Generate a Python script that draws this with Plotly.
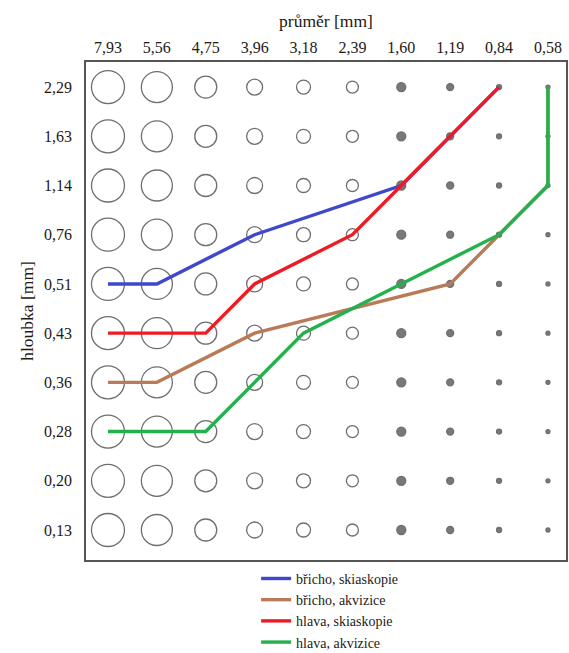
import plotly.graph_objects as go

# --- data ---
diameters = ["7,93", "5,56", "4,75", "3,96", "3,18", "2,39", "1,60", "1,19", "0,84", "0,58"]
depths = ["0,13", "0,20", "0,28", "0,36", "0,43", "0,51", "0,76", "1,14", "1,63", "2,29"]

bricho_skiaskopie_x = ["7,93", "5,56", "3,96", "1,60", "0,84"]
bricho_skiaskopie_y = ["0,51", "0,51", "0,76", "1,14", "2,29"]

bricho_akvizice_x = ["7,93", "5,56", "3,96", "1,19", "0,84", "0,58", "0,58"]
bricho_akvizice_y = ["0,36", "0,36", "0,43", "0,51", "0,76", "1,14", "2,29"]

hlava_skiaskopie_x = ["7,93", "4,75", "3,96", "2,39", "1,60", "0,84"]
hlava_skiaskopie_y = ["0,43", "0,43", "0,51", "0,76", "1,14", "2,29"]

hlava_akvizice_x = ["7,93", "4,75", "3,96", "3,18", "1,60", "0,84", "0,58", "0,58"]
hlava_akvizice_y = ["0,28", "0,28", "0,36", "0,43", "0,51", "0,76", "1,14", "2,29"]

# --- style ---
marker_px = [33, 31, 22, 16, 14, 12, 9, 7, 5, 4]
filled = [False, False, False, False, False, False, True, True, True, True]
FONT = "Liberation Serif"
TXT = "#1e1a16"

fig = go.Figure()

gx, gy, gs, gc = [], [], [], []
for i, d in enumerate(diameters):
    for dep in depths:
        gx.append(d)
        gy.append(dep)
        gs.append(marker_px[i])
        gc.append("#404040" if filled[i] else "rgba(255,255,255,0)")
fig.add_trace(go.Scatter(
    x=gx, y=gy, mode="markers", showlegend=False, hoverinfo="skip",
    marker=dict(size=gs, color=gc, line=dict(color="#333333", width=1.3)),
))

series = [
    ("břicho, skiaskopie", bricho_skiaskopie_x, bricho_skiaskopie_y, "#3F48CC"),
    ("břicho, akvizice", bricho_akvizice_x, bricho_akvizice_y, "#B97A57"),
    ("hlava, skiaskopie", hlava_skiaskopie_x, hlava_skiaskopie_y, "#ED1C24"),
    ("hlava, akvizice", hlava_akvizice_x, hlava_akvizice_y, "#22B14C"),
]
for name, xs, ys, col in series:
    fig.add_trace(go.Scatter(x=xs, y=ys, mode="lines", name=name,
                             line=dict(color=col, width=3.4)))

fig.add_shape(type="rect", xref="paper", yref="paper", x0=0, y0=0, x1=1, y1=1,
              line=dict(color="#555555", width=2), layer="above")

fig.update_layout(
    width=569, height=653,
    margin=dict(l=85, r=2, t=61, b=92),
    paper_bgcolor="white", plot_bgcolor="white",
    font=dict(family=FONT, size=16, color=TXT),
    xaxis=dict(
        type="category", categoryorder="array", categoryarray=diameters,
        range=[-0.47, 9.39], side="top", showgrid=False, zeroline=False,
        showline=False, ticks="", ticklabelstandoff=4,
        title=dict(text="průměr [mm]", standoff=6, font=dict(family=FONT, size=17.5, color=TXT)),
        tickfont=dict(family=FONT, size=16, color=TXT),
    ),
    yaxis=dict(
        type="category", categoryorder="array", categoryarray=depths,
        range=[-0.63, 9.53], showgrid=False, zeroline=False,
        showline=False, ticks="", ticklabelstandoff=12,
        title=dict(text="hloubka [mm]", standoff=5, font=dict(family=FONT, size=17.5, color=TXT)),
        tickfont=dict(family=FONT, size=16, color=TXT),
    ),
    legend=dict(
        x=0.355, xanchor="left", yref="container", y=0.138, yanchor="top",
        font=dict(family=FONT, size=14, color=TXT), tracegroupgap=0,
        itemwidth=30, bgcolor="rgba(255,255,255,0)",
    ),
)

fig.write_html("out.html", config={"displayModeBar": False},
               post_script="document.body.style.margin='0';document.body.style.overflow='hidden';")
